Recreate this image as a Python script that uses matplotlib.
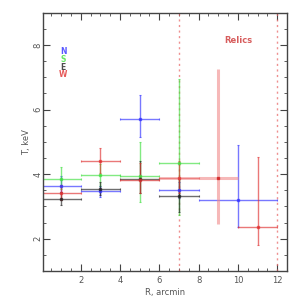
import numpy as np
import matplotlib
matplotlib.use("Agg")
import matplotlib.pyplot as plt
from matplotlib.ticker import MultipleLocator

# Datos: radio (arcmin), temperatura (keV)
# N (azul)
n_x = [1, 3, 5, 7, 10]
n_xerr = [1, 1, 1, 1, 2]
n_t = [3.64, 3.47, 5.72, 3.50, 3.21]
n_lo = [3.45, 3.28, 5.16, 3.25, 2.36]
n_hi = [3.95, 3.62, 6.44, 3.75, 4.91]

# S (verde)
s_x = [1, 3, 5, 7]
s_xerr = [1, 1, 1, 1]
s_t = [3.84, 3.97, 3.95, 4.34]
s_lo = [3.55, 3.62, 3.13, 2.72]
s_hi = [4.22, 4.30, 5.01, 6.94]

# E (negro)
e_x = [1, 3, 5, 7]
e_xerr = [1, 1, 1, 1]
e_t = [3.24, 3.54, 3.85, 3.33]
e_lo = [3.04, 3.35, 3.40, 2.84]
e_hi = [3.45, 3.75, 4.40, 3.85]

# W (rojo)
w_x = [1, 3, 5, 7, 9, 11]
w_xerr = [1, 1, 1, 1, 1, 1]
w_t = [3.42, 4.40, 3.82, 3.88, 3.89, 2.37]
w_lo = [3.20, 4.05, 3.43, 3.40, 2.46, 1.81]
w_hi = [3.65, 4.80, 4.34, 4.40, 7.26, 4.53]

relics = [7, 12]

series = [
    ("N", "#3030ff", n_x, n_xerr, n_t, n_lo, n_hi),
    ("S", "#40e040", s_x, s_xerr, s_t, s_lo, s_hi),
    ("E", "#202020", e_x, e_xerr, e_t, e_lo, e_hi),
    ("W", "#e03030", w_x, w_xerr, w_t, w_lo, w_hi),
]

fig = plt.figure(figsize=(2.99, 2.99), dpi=100)
ax = fig.add_axes([0.145, 0.094, 0.815, 0.863])

for xv in relics:
    ax.axvline(xv, color="#e86060", ls=(0, (1.5, 2.5)), lw=1.0, alpha=0.7)

for name, col, x, xe, t, lo, hi in series:
    x = np.array(x, float)
    t = np.array(t)
    xe = np.array(xe, float)
    lo = np.array(lo)
    hi = np.array(hi)
    # el punto rojo en x = 9 se dibuja aparte (barra ancha y clara)
    keep = ~((name == "W") & (x == 9))
    yerr = [t[keep] - lo[keep], hi[keep] - t[keep]]
    ax.errorbar(x[keep], t[keep], xerr=xe[keep], yerr=yerr, fmt="s", ms=2,
                color=col, ecolor=col, elinewidth=1.0, capsize=1,
                capthick=0.8, alpha=0.65)

# barras rojas anchas y claras (x = 9 completa, x = 7 horizontal)
i9 = w_x.index(9)
ax.errorbar([w_x[i9]], [w_t[i9]], xerr=w_xerr[i9],
            yerr=[[w_t[i9] - w_lo[i9]], [w_hi[i9] - w_t[i9]]],
            fmt="none", ecolor="#f08a8a", elinewidth=2.2, alpha=0.6)
ax.plot([w_x[i9]], [w_t[i9]], "s", ms=2, color="#d02020", alpha=0.8)
i7 = w_x.index(7)
ax.errorbar([w_x[i7]], [w_t[i7]], xerr=w_xerr[i7], fmt="none",
            ecolor="#f08a8a", elinewidth=2.0, alpha=0.5)

ax.set_xlim(0.1, 12.5)
ax.set_ylim(1, 9)
ax.xaxis.set_major_locator(MultipleLocator(2))
ax.xaxis.set_minor_locator(MultipleLocator(0.5))
ax.yaxis.set_major_locator(MultipleLocator(2))
ax.yaxis.set_minor_locator(MultipleLocator(0.5))
ax.tick_params(which="both", direction="in", top=True, right=True,
               colors="#444444", labelcolor="#555555", labelsize=6)
ax.tick_params(which="major", length=5, width=0.8)
ax.tick_params(which="minor", length=2.5, width=0.6)
ax.tick_params(axis="y", which="major", labelrotation=90, pad=0.5)
ax.tick_params(axis="x", which="major", pad=4)
for lab in ax.get_yticklabels():
    lab.set_va("center")
for sp in ax.spines.values():
    sp.set_color("#444444")
    sp.set_linewidth(1.0)

ax.set_xlabel("R, arcmin", fontsize=6, color="#555555", labelpad=2)
ax.set_ylabel("T, keV", fontsize=6, color="#555555", labelpad=2)

for i, (name, col, *_) in enumerate(series):
    ax.text(1.1, 7.81 - 0.245 * i, name, color=col, fontsize=5.5,
            ha="center", va="center", fontweight="bold", alpha=0.8)
ax.text(10.0, 8.15, "Relics", color="#d04040", fontsize=6,
        ha="center", va="center", fontweight="bold", alpha=0.85)

fig.savefig("out.png", dpi=100)
